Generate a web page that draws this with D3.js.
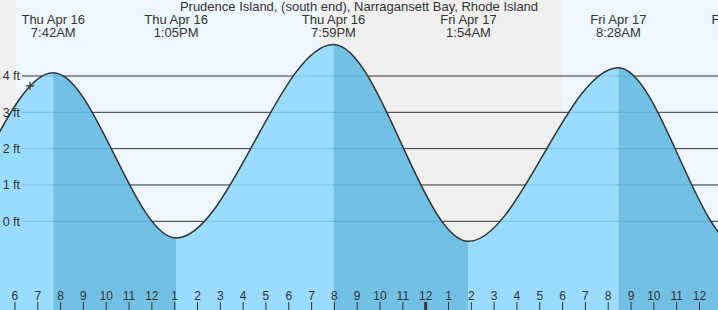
<!DOCTYPE html>
<html>
<head>
<meta charset="utf-8">
<script src="https://cdn.jsdelivr.net/npm/d3@7"></script>
<style>
  html, body { margin: 0; padding: 0; background: #fff; }
  svg { display: block; font-family: "Liberation Sans", Arial, sans-serif; }
</style>
</head>
<body>
<div id="chart"></div>
<script>
// tide extremes (local time) and heights in feet
var extremeTimes = ["2026-04-15 19:25", "2026-04-16 01:50", "2026-04-16 07:42", "2026-04-16 13:05",
  "2026-04-16 19:59", "2026-04-17 01:54", "2026-04-17 08:28", "2026-04-17 13:47", "2026-04-17 20:40"];
var extremeFeet = [4.6, -0.5, 4.09, -0.46, 4.87, -0.55, 4.23, -0.7, 4.6];

// sunset -> sunrise spans
var nightStarts = ["2026-04-15 19:23", "2026-04-16 19:24"];
var nightEnds = ["2026-04-16 06:03", "2026-04-17 06:01"];

var feetTicks = [0, 1, 2, 3, 4];
var viewStart = "2026-04-16 05:22";
var viewEnd = "2026-04-17 12:50";
var nowTime = "2026-04-16 06:41";
var nowFeet = 3.73;
var title = "Prudence Island, (south end), Narragansett Bay, Rhode Island";

var W = 718, H = 310;
var parse = d3.timeParse("%Y-%m-%d %H:%M");

var tides = extremeTimes.map(function (t, i) {
  return { t: parse(t), v: extremeFeet[i] };
});

var x = d3.scaleTime()
  .domain([parse(viewStart), parse(viewEnd)])
  .range([0, W]);
var y = d3.scaleLinear()
  .domain([0, 4])
  .range([221.3, 76]);

var svg = d3.select("#chart").append("svg")
  .attr("width", W)
  .attr("height", H);

// day / night background
svg.append("rect")
  .attr("width", W).attr("height", H)
  .attr("fill", "#eef6ff");
svg.selectAll("rect.night")
  .data(nightStarts.map(function (s, i) { return [parse(s), parse(nightEnds[i])]; }))
  .enter().append("rect")
  .attr("class", "night")
  .attr("x", function (d) { return x(d[0]); })
  .attr("width", function (d) { return x(d[1]) - x(d[0]); })
  .attr("y", 0).attr("height", H)
  .attr("fill", "#efefef");

// grid lines (behind the water)
svg.selectAll("line.grid")
  .data(feetTicks)
  .enter().append("line")
  .attr("class", "grid")
  .attr("x1", 22).attr("x2", W)
  .attr("y1", y).attr("y2", y)
  .attr("stroke", "#333")
  .attr("stroke-width", 1);

// water
var line = d3.line()
  .x(function (d) { return x(d.t); })
  .y(function (d) { return y(d.v); })
  .curve(d3.curveMonotoneX);
var area = d3.area()
  .x(function (d) { return x(d.t); })
  .y0(H)
  .y1(function (d) { return y(d.v); })
  .curve(d3.curveMonotoneX);

var segs = d3.pairs(tides);
var defs = svg.append("defs");
defs.selectAll("clipPath")
  .data(segs)
  .enter().append("clipPath")
  .attr("id", function (d, i) { return "seg" + i; })
  .append("rect")
  .attr("x", function (d) { return x(d[0].t); })
  .attr("width", function (d) { return x(d[1].t) - x(d[0].t); })
  .attr("y", 0).attr("height", H);
defs.append("clipPath").attr("id", "water")
  .append("path").attr("d", area(tides));

svg.selectAll("path.fill")
  .data(segs)
  .enter().append("path")
  .attr("class", "fill")
  .attr("clip-path", function (d, i) { return "url(#seg" + i + ")"; })
  .attr("d", area(tides))
  .attr("fill", function (d) { return d[1].v > d[0].v ? "#99dcfe" : "#72c1e5"; });

// faint grid over the water
svg.append("g").attr("clip-path", "url(#water)")
  .selectAll("line")
  .data(feetTicks)
  .enter().append("line")
  .attr("x1", 22).attr("x2", W)
  .attr("y1", y).attr("y2", y)
  .attr("stroke", "#2a86b8")
  .attr("stroke-opacity", 0.3);

svg.append("path")
  .attr("d", line(tides))
  .attr("fill", "none")
  .attr("stroke", "#333")
  .attr("stroke-width", 1.5);

svg.selectAll("text.ft")
  .data(feetTicks)
  .enter().append("text")
  .attr("class", "ft")
  .attr("x", 20)
  .attr("y", y)
  .attr("dy", "0.35em")
  .attr("text-anchor", "end")
  .attr("font-size", "12.5px")
  .attr("fill", "#333")
  .text(function (d) { return d + " ft"; });

// present time marker
svg.append("path")
  .attr("transform", "translate(" + x(parse(nowTime)) + "," + y(nowFeet) + ")")
  .attr("d", "M-4,0H4M0,-4V4")
  .attr("stroke", "#333")
  .attr("stroke-width", 1.2);

// hour axis
var hourAxis = d3.axisTop(x)
  .ticks(d3.timeHour.every(1))
  .tickFormat(d3.timeFormat("%-I"))
  .tickSizeInner(8)
  .tickSizeOuter(0)
  .tickPadding(2);
var ax = svg.append("g")
  .attr("transform", "translate(0," + H + ")")
  .call(hourAxis);
ax.select(".domain").remove();
ax.selectAll("line")
  .attr("stroke", "#333")
  .attr("stroke-width", function (d) { return d.getHours() === 0 ? 3 : 1; });
ax.selectAll("text")
  .attr("fill", "#333")
  .attr("font-size", "12px")
  .attr("font-family", "\"Liberation Sans\", Arial, sans-serif");

// high / low labels (only those that reach into the view)
var fmtDay = d3.timeFormat("%a %b %-d");
var fmtTime = d3.timeFormat("%-I:%M%p");
var lab = svg.selectAll("g.lab")
  .data(tides.filter(function (d) { return x(d.t) > 0 && x(d.t) < W + 30; }))
  .enter().append("g")
  .attr("class", "lab")
  .attr("transform", function (d) { return "translate(" + x(d.t) + ",0)"; });
lab.append("text")
  .attr("y", 24)
  .attr("text-anchor", "middle")
  .attr("font-size", "13px")
  .attr("fill", "#333")
  .text(function (d) { return fmtDay(d.t); });
lab.append("text")
  .attr("y", 36.5)
  .attr("text-anchor", "middle")
  .attr("font-size", "13px")
  .attr("fill", "#333")
  .text(function (d) { return fmtTime(d.t); });

svg.append("text")
  .attr("x", 359)
  .attr("y", 11)
  .attr("text-anchor", "middle")
  .attr("font-size", "13px")
  .attr("fill", "#333")
  .text(title);
</script>
</body>
</html>
